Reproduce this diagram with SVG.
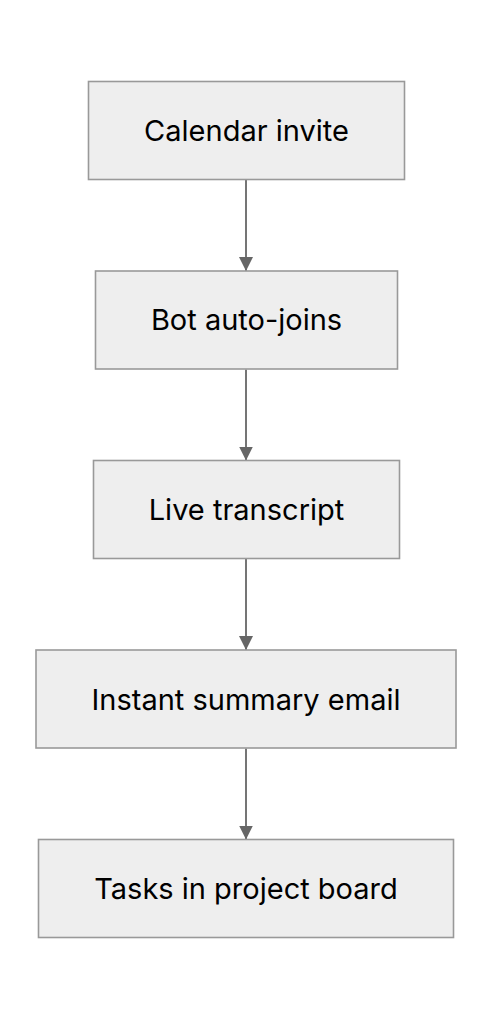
<svg xmlns="http://www.w3.org/2000/svg" width="492" height="1020" viewBox="0 0 492 1020">
<style>
.box{fill:#eeeeee;stroke:#999999;stroke-width:1.6}
.lbl{font-family:Inter,"Noto Sans","Liberation Sans",sans-serif;font-size:29px;fill:#000000;text-anchor:middle}
.edge{stroke:#666666;stroke-width:1.8;fill:none}
</style>
<defs>
<marker id="arr" markerUnits="userSpaceOnUse" markerWidth="16" markerHeight="16" refX="14" refY="7" orient="auto">
<path d="M0,0 L14,7 L0,14 z" fill="#666666"/>
</marker>
</defs>
<rect width="492" height="1020" fill="#ffffff"/>
<g id="connectors">
<line class="edge" x1="246" y1="180" x2="246" y2="271" marker-end="url(#arr)"/>
<line class="edge" x1="246" y1="369.5" x2="246" y2="460.5" marker-end="url(#arr)"/>
<line class="edge" x1="246" y1="559" x2="246" y2="650" marker-end="url(#arr)"/>
<line class="edge" x1="246" y1="748.5" x2="246" y2="839.5" marker-end="url(#arr)"/>
</g>
<g id="n1"><rect class="box" x="88.5" y="81.5" width="316" height="98"/><text class="lbl" x="246.5" y="140.7">Calendar invite</text></g>
<g id="n2"><rect class="box" x="95.5" y="271" width="302" height="98"/><text class="lbl" x="246.5" y="330.2">Bot auto-joins</text></g>
<g id="n3"><rect class="box" x="93.5" y="460.5" width="306" height="98"/><text class="lbl" x="246.5" y="519.7">Live transcript</text></g>
<g id="n4"><rect class="box" x="36" y="650" width="420" height="98"/><text class="lbl" x="246" y="709.7">Instant summary email</text></g>
<g id="n5"><rect class="box" x="38.5" y="839.5" width="415" height="98"/><text class="lbl" x="246" y="899">Tasks in project board</text></g>
</svg>
